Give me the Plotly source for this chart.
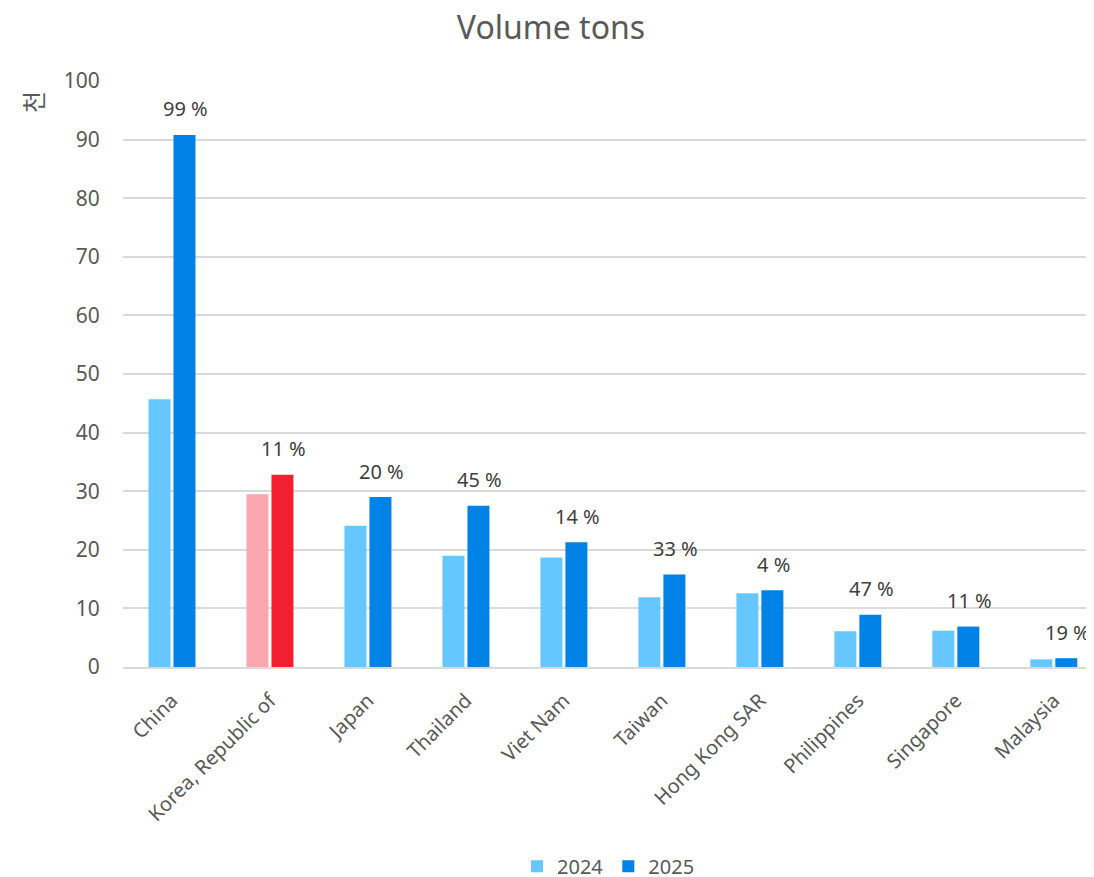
import plotly.graph_objects as go

categories = ["China", "Korea, Republic of", "Japan", "Thailand", "Viet Nam",
              "Taiwan", "Hong Kong SAR", "Philippines", "Singapore", "Malaysia"]
vol_2024 = [45.7, 29.5, 24.1, 19.0, 18.7, 11.9, 12.6, 6.1, 6.2, 1.3]
vol_2025 = [90.8, 32.8, 29.0, 27.5, 21.3, 15.8, 13.1, 8.9, 6.9, 1.5]
growth_labels = ["99 %", "11 %", "20 %", "45 %", "14 %", "33 %", "4 %", "47 %", "11 %", "19 %"]
y_ticks = [0, 10, 20, 30, 40, 50, 60, 70, 80, 90, 100]

LIGHT = "#66C7FF"
DARK = "#0082E6"
HL_LIGHT = "#F9A6AE"
HL_DARK = "#F21F30"
highlight = "Korea, Republic of"

c24 = [HL_LIGHT if c == highlight else LIGHT for c in categories]
c25 = [HL_DARK if c == highlight else DARK for c in categories]

FONT = "Noto Sans"
GREY = "#595959"

fig = go.Figure()
fig.add_trace(go.Bar(x=categories, y=vol_2024, name="2024",
                     marker=dict(color=c24, line=dict(width=0))))
fig.add_trace(go.Bar(x=categories, y=vol_2025, name="2025",
                     marker=dict(color=c25, line=dict(width=0))))

annotations = []
for cat, v, lab in zip(categories, vol_2025, growth_labels):
    annotations.append(dict(x=cat, y=v, text=lab, showarrow=False, xref="x", yref="y",
                            xshift=14, yshift=26, yanchor="middle",
                            font=dict(family=FONT, size=20, color="#404040")))
annotations.append(dict(x=0, y=100, xref="paper", yref="y", text="천", textangle=-90,
                        showarrow=False, xanchor="center", yanchor="middle",
                        xshift=32 - 123, yshift=-21,
                        font=dict(family="Noto Sans CJK KR", size=24, color=GREY)))

fig.update_layout(
    width=1086, height=869,
    margin=dict(l=115, r=0, t=73, b=210, autoexpand=False),
    paper_bgcolor="white", plot_bgcolor="white",
    title=dict(text="Volume tons", x=0.5, xanchor="center", y=1 - 20 / 869, yanchor="middle",
               font=dict(family=FONT, size=32, color=GREY)),
    barmode="group", bargap=0.49, bargroupgap=0.12,
    font=dict(family=FONT, size=20, color=GREY),
    legend=dict(orientation="h", x=0.5, xanchor="center", y=-0.34, yanchor="middle",
                font=dict(family=FONT, size=20, color=GREY), traceorder="normal",
                itemwidth=30),
    annotations=annotations,
    showlegend=True,
)
fig.update_xaxes(range=[-0.5, 9.41], tickangle=-45, showgrid=False, automargin=False,
                 showline=True, linecolor="#D9D9D9", linewidth=2,
                 ticks="outside", ticklen=12, tickcolor="rgba(0,0,0,0)",
                 tickfont=dict(family=FONT, size=20, color=GREY))
fig.update_yaxes(range=[0, 100], tickvals=y_ticks, showgrid=True, gridcolor="#D9D9D9",
                 gridwidth=1.5, zeroline=False, showline=False, automargin=False,
                 ticks="outside", ticklen=18, tickcolor="rgba(0,0,0,0)",
                 tickfont=dict(family=FONT, size=21, color=GREY))

fig.write_html("out.html")
